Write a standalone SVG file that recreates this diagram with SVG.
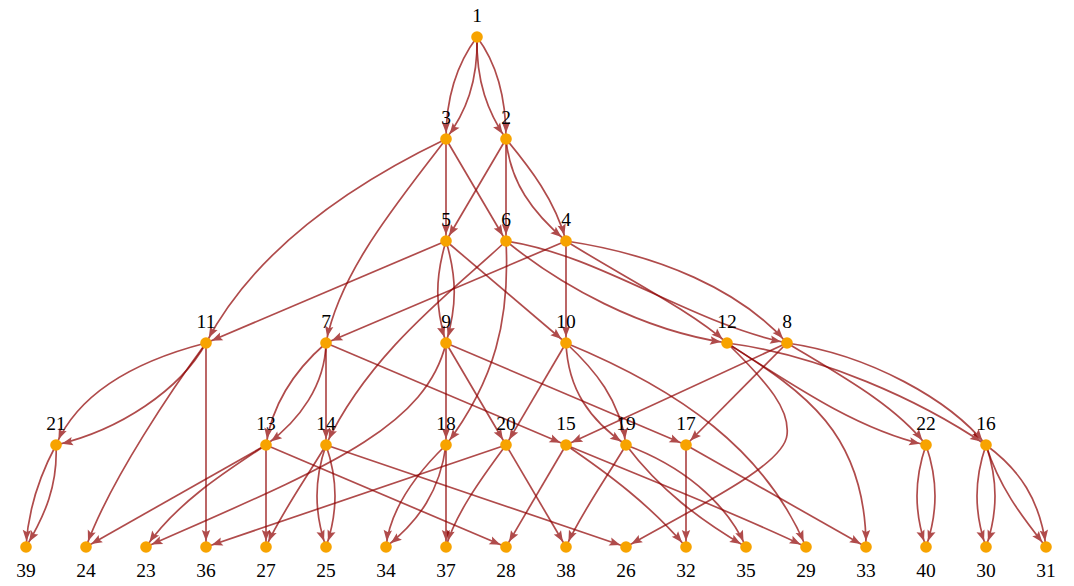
<svg xmlns="http://www.w3.org/2000/svg" width="1074" height="586" viewBox="0 0 1074 586">
<style>
.e{fill:none;stroke:#8f0000;stroke-width:1.7;opacity:.7;marker-end:url(#ah)}
.n circle{fill:#f7a300}
.n text{font-family:"Liberation Serif","Times New Roman",serif;font-size:19.5px;fill:#000;text-anchor:middle}
</style>
<defs>
<marker id="ah" markerUnits="userSpaceOnUse" markerWidth="30" markerHeight="30" refX="0" refY="0" orient="auto" overflow="visible">
<path d="M-6,0 L-17,-4.2 L-15,0 L-17,4.2 Z" fill="#8f0000"/>
</marker>
</defs>
<rect width="1074" height="586" fill="#fff"/>
<g id="edges">
<path class="e" d="M477,37 C456,65 446,100 446,139"/>
<path class="e" d="M477,37 C478,82 466,112 446,139"/>
<path class="e" d="M477,37 C498,65 506,100 506,139"/>
<path class="e" d="M477,37 C476,82 488,112 506,139"/>
<path class="e" d="M446,139 C350,185 255,250 206,343"/>
<path class="e" d="M446,139 C400,200 340,270 326,343"/>
<path class="e" d="M446,139 L446,241"/>
<path class="e" d="M446,139 L506,241"/>
<path class="e" d="M506,139 L446,241"/>
<path class="e" d="M506,139 L506,241"/>
<path class="e" d="M506,139 C530,168 555,200 566,241"/>
<path class="e" d="M506,139 C510,182 532,212 566,241"/>
<path class="e" d="M446,241 L206,343"/>
<path class="e" d="M446,241 C435,278 435,306 446,343"/>
<path class="e" d="M446,241 C457,278 457,306 446,343"/>
<path class="e" d="M446,241 L566,343"/>
<path class="e" d="M506,241 C460,285 370,350 326,445"/>
<path class="e" d="M506,241 C510,320 495,380 446,445"/>
<path class="e" d="M506,241 C560,285 640,330 727,343"/>
<path class="e" d="M506,241 C600,255 690,323 787,343"/>
<path class="e" d="M566,241 L326,343"/>
<path class="e" d="M566,241 L566,343"/>
<path class="e" d="M566,241 C620,275 690,310 727,343"/>
<path class="e" d="M566,241 C660,255 740,290 787,343"/>
<path class="e" d="M206,343 C140,360 80,390 56,445"/>
<path class="e" d="M206,343 C180,390 120,430 56,445"/>
<path class="e" d="M206,343 C175,385 110,480 86,547"/>
<path class="e" d="M206,343 L206,547"/>
<path class="e" d="M326,343 C295,370 272,405 266,445"/>
<path class="e" d="M326,343 C325,385 300,420 266,445"/>
<path class="e" d="M326,343 L326,445"/>
<path class="e" d="M326,343 L566,445"/>
<path class="e" d="M446,343 L446,445"/>
<path class="e" d="M446,343 L506,445"/>
<path class="e" d="M446,343 L686,445"/>
<path class="e" d="M446,343 C425,430 320,470 146,547"/>
<path class="e" d="M566,343 L506,445"/>
<path class="e" d="M566,343 C568,390 590,420 626,445"/>
<path class="e" d="M566,343 C595,370 620,400 626,445"/>
<path class="e" d="M566,343 C680,390 765,450 806,547"/>
<path class="e" d="M727,343 C800,390 860,430 926,445"/>
<path class="e" d="M727,343 C820,355 920,400 986,445"/>
<path class="e" d="M727,343 C770,385 790,410 787,435 C784,465 700,505 626,547"/>
<path class="e" d="M727,343 C800,390 866,430 866,547"/>
<path class="e" d="M787,343 L566,445"/>
<path class="e" d="M787,343 L686,445"/>
<path class="e" d="M787,343 C840,375 895,405 926,445"/>
<path class="e" d="M787,343 C870,355 950,400 986,445"/>
<path class="e" d="M56,445 C40,475 28,510 26,547"/>
<path class="e" d="M56,445 C58,485 45,515 26,547"/>
<path class="e" d="M266,445 L86,547"/>
<path class="e" d="M266,445 C220,475 175,505 146,547"/>
<path class="e" d="M266,445 L266,547"/>
<path class="e" d="M266,445 L506,547"/>
<path class="e" d="M326,445 C314,480 314,512 326,547"/>
<path class="e" d="M326,445 C338,480 338,512 326,547"/>
<path class="e" d="M326,445 C305,480 280,515 266,547"/>
<path class="e" d="M326,445 L626,547"/>
<path class="e" d="M446,445 C415,475 390,510 386,547"/>
<path class="e" d="M446,445 C440,490 420,520 386,547"/>
<path class="e" d="M446,445 L446,547"/>
<path class="e" d="M506,445 C480,480 455,515 446,547"/>
<path class="e" d="M506,445 L566,547"/>
<path class="e" d="M506,445 L206,547"/>
<path class="e" d="M566,445 L506,547"/>
<path class="e" d="M566,445 C610,475 650,505 686,547"/>
<path class="e" d="M566,445 C650,480 740,515 806,547"/>
<path class="e" d="M626,445 C605,480 580,515 566,547"/>
<path class="e" d="M626,445 C660,490 700,520 746,547"/>
<path class="e" d="M626,445 C680,465 725,500 746,547"/>
<path class="e" d="M686,445 L686,547"/>
<path class="e" d="M686,445 L866,547"/>
<path class="e" d="M926,445 C914,480 914,512 926,547"/>
<path class="e" d="M926,445 C938,480 938,512 926,547"/>
<path class="e" d="M986,445 C974,480 974,512 986,547"/>
<path class="e" d="M986,445 C998,480 998,512 986,547"/>
<path class="e" d="M986,445 C1000,490 1025,520 1046,547"/>
<path class="e" d="M986,445 C1020,470 1040,500 1046,547"/>
</g>
<g id="n1" class="n"><circle cx="477" cy="37" r="5.8"/><text x="477" y="22">1</text></g>
<g id="n3" class="n"><circle cx="446" cy="139" r="5.8"/><text x="446" y="124">3</text></g>
<g id="n2" class="n"><circle cx="506" cy="139" r="5.8"/><text x="506" y="124">2</text></g>
<g id="n5" class="n"><circle cx="446" cy="241" r="5.8"/><text x="446" y="226">5</text></g>
<g id="n6" class="n"><circle cx="506" cy="241" r="5.8"/><text x="506" y="226">6</text></g>
<g id="n4" class="n"><circle cx="566" cy="241" r="5.8"/><text x="566" y="226">4</text></g>
<g id="n11" class="n"><circle cx="206" cy="343" r="5.8"/><text x="206" y="328">11</text></g>
<g id="n7" class="n"><circle cx="326" cy="343" r="5.8"/><text x="326" y="328">7</text></g>
<g id="n9" class="n"><circle cx="446" cy="343" r="5.8"/><text x="446" y="328">9</text></g>
<g id="n10" class="n"><circle cx="566" cy="343" r="5.8"/><text x="566" y="328">10</text></g>
<g id="n12" class="n"><circle cx="727" cy="343" r="5.8"/><text x="727" y="328">12</text></g>
<g id="n8" class="n"><circle cx="787" cy="343" r="5.8"/><text x="787" y="328">8</text></g>
<g id="n21" class="n"><circle cx="56" cy="445" r="5.8"/><text x="56" y="430">21</text></g>
<g id="n13" class="n"><circle cx="266" cy="445" r="5.8"/><text x="266" y="430">13</text></g>
<g id="n14" class="n"><circle cx="326" cy="445" r="5.8"/><text x="326" y="430">14</text></g>
<g id="n18" class="n"><circle cx="446" cy="445" r="5.8"/><text x="446" y="430">18</text></g>
<g id="n20" class="n"><circle cx="506" cy="445" r="5.8"/><text x="506" y="430">20</text></g>
<g id="n15" class="n"><circle cx="566" cy="445" r="5.8"/><text x="566" y="430">15</text></g>
<g id="n19" class="n"><circle cx="626" cy="445" r="5.8"/><text x="626" y="430">19</text></g>
<g id="n17" class="n"><circle cx="686" cy="445" r="5.8"/><text x="686" y="430">17</text></g>
<g id="n22" class="n"><circle cx="926" cy="445" r="5.8"/><text x="926" y="430">22</text></g>
<g id="n16" class="n"><circle cx="986" cy="445" r="5.8"/><text x="986" y="430">16</text></g>
<g id="n39" class="n"><circle cx="26" cy="547" r="5.8"/><text x="26" y="577">39</text></g>
<g id="n24" class="n"><circle cx="86" cy="547" r="5.8"/><text x="86" y="577">24</text></g>
<g id="n23" class="n"><circle cx="146" cy="547" r="5.8"/><text x="146" y="577">23</text></g>
<g id="n36" class="n"><circle cx="206" cy="547" r="5.8"/><text x="206" y="577">36</text></g>
<g id="n27" class="n"><circle cx="266" cy="547" r="5.8"/><text x="266" y="577">27</text></g>
<g id="n25" class="n"><circle cx="326" cy="547" r="5.8"/><text x="326" y="577">25</text></g>
<g id="n34" class="n"><circle cx="386" cy="547" r="5.8"/><text x="386" y="577">34</text></g>
<g id="n37" class="n"><circle cx="446" cy="547" r="5.8"/><text x="446" y="577">37</text></g>
<g id="n28" class="n"><circle cx="506" cy="547" r="5.8"/><text x="506" y="577">28</text></g>
<g id="n38" class="n"><circle cx="566" cy="547" r="5.8"/><text x="566" y="577">38</text></g>
<g id="n26" class="n"><circle cx="626" cy="547" r="5.8"/><text x="626" y="577">26</text></g>
<g id="n32" class="n"><circle cx="686" cy="547" r="5.8"/><text x="686" y="577">32</text></g>
<g id="n35" class="n"><circle cx="746" cy="547" r="5.8"/><text x="746" y="577">35</text></g>
<g id="n29" class="n"><circle cx="806" cy="547" r="5.8"/><text x="806" y="577">29</text></g>
<g id="n33" class="n"><circle cx="866" cy="547" r="5.8"/><text x="866" y="577">33</text></g>
<g id="n40" class="n"><circle cx="926" cy="547" r="5.8"/><text x="926" y="577">40</text></g>
<g id="n30" class="n"><circle cx="986" cy="547" r="5.8"/><text x="986" y="577">30</text></g>
<g id="n31" class="n"><circle cx="1046" cy="547" r="5.8"/><text x="1046" y="577">31</text></g>
</svg>
